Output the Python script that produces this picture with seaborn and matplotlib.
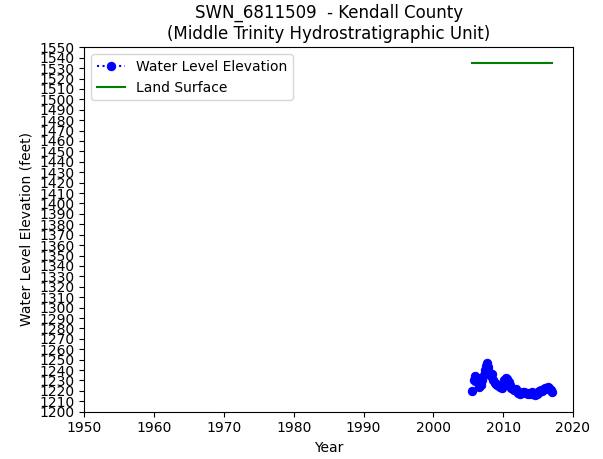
import numpy as np
import pandas as pd
import matplotlib
matplotlib.use("Agg")
import matplotlib.pyplot as plt
import seaborn as sns

# water level readings (decimal year, elevation in feet)
years = [2005.6, 2005.9, 2006.0, 2006.2, 2006.4, 2006.6, 2006.8, 2007.0, 2007.2, 2007.4,
         2007.6, 2007.75, 2007.9, 2008.0, 2008.2, 2008.4, 2008.6, 2008.8, 2009.0, 2009.2,
         2009.4, 2009.6, 2009.8, 2010.0, 2010.2, 2010.4, 2010.6, 2010.8, 2011.0, 2011.2,
         2011.4, 2011.6, 2011.8, 2012.0, 2012.2, 2012.4, 2012.6, 2012.8, 2013.0, 2013.2,
         2013.4, 2013.6, 2013.8, 2014.0, 2014.2, 2014.4, 2014.6, 2014.8, 2015.0, 2015.2,
         2015.4, 2015.6, 2015.8, 2016.0, 2016.2, 2016.4, 2016.6, 2016.8, 2017.0]
levels = [1220, 1230, 1234, 1232, 1228, 1224, 1226, 1230, 1235, 1240,
          1244, 1247, 1243, 1238, 1234, 1236, 1230, 1228, 1227, 1226,
          1225, 1224, 1223, 1226, 1230, 1232, 1231, 1229, 1226, 1223,
          1222, 1221, 1222, 1220, 1218, 1217, 1218, 1219, 1219, 1218,
          1218, 1217, 1218, 1217, 1219, 1218, 1216, 1217, 1218, 1220,
          1221, 1220, 1222, 1223, 1222, 1224, 1223, 1221, 1219]

land_years = [2005.5, 2017.0]
land_surface = [1535, 1535]

water = pd.DataFrame({"Year": years, "Elevation": levels})
land = pd.DataFrame({"Year": land_years, "Elevation": land_surface})

fig, ax = plt.subplots(figsize=(6.03, 4.59), dpi=100)
fig.subplots_adjust(left=0.14, right=0.95, top=0.897, bottom=0.103)

sns.lineplot(x="Year", y="Elevation", data=water, ax=ax, color="blue", linestyle=":",
             marker="o", markersize=6, markeredgecolor="blue", label="Water Level Elevation")
sns.lineplot(x="Year", y="Elevation", data=land, ax=ax, color="green", label="Land Surface")

ax.set_xlim(1950, 2020)
ax.set_ylim(1200, 1550)
ax.set_yticks(np.arange(1200, 1551, 10))
ax.set_xlabel("Year")
ax.set_ylabel("Water Level Elevation (feet)")
ax.set_title("SWN_6811509  - Kendall County\n(Middle Trinity Hydrostratigraphic Unit)", fontsize=12)
ax.legend(loc="upper left")

plt.savefig("out.png", dpi=100)
